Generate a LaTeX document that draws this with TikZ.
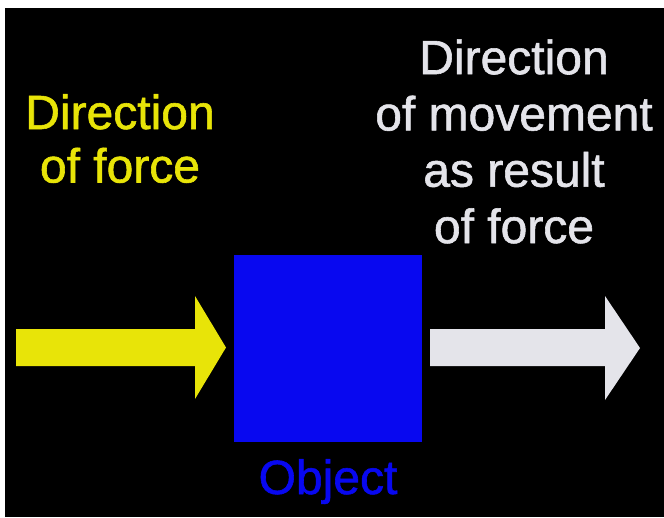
\documentclass[tikz,border=0pt]{standalone}
\usepackage{fontspec}
\setmainfont{Liberation Sans}
\newfontfamily\thickfont{Liberation Sans}[FakeBold=1.2]
\definecolor{forceyellow}{RGB}{232,228,8}
\definecolor{moveWhite}{RGB}{228,228,234}
\definecolor{objblue}{RGB}{8,8,240}
\tikzset{
  bigtext/.style={font=\fontsize{48}{56.3}\thickfont, inner sep=0pt, align=center, anchor=base},
  arrowshape/.style={draw=none}
}
\begin{document}
\begin{tikzpicture}[x=1pt,y=-1pt]
\useasboundingbox (0,0) rectangle (664,517);
\fill[white] (0,0) rectangle (664,517);
\fill[black] (5,8) rectangle (664,517);
% force arrow
\fill[forceyellow, arrowshape] (16,329) -- (195,329) -- (195,296) -- (226,347.5) -- (195,399) -- (195,366) -- (16,366) -- cycle;
% movement arrow
\fill[moveWhite, arrowshape] (430,329) -- (605,329) -- (605,296) -- (640,348) -- (605,400) -- (605,366) -- (430,366) -- cycle;
% object
\node[fill=objblue, minimum width=188pt, minimum height=187pt, inner sep=0pt, anchor=north west] (obj) at (234,255) {};
\node[bigtext, text=objblue] (objlabel) at (328,494) {Object};
\node[bigtext, text=forceyellow, font=\fontsize{48}{53.5}\thickfont] (forcelabel) at (120,182.5) {Direction\\of force};
\node[bigtext, text=moveWhite] (movelabel) at (514,243) {Direction\\of movement\\as result\\of force};
\end{tikzpicture}
\end{document}
